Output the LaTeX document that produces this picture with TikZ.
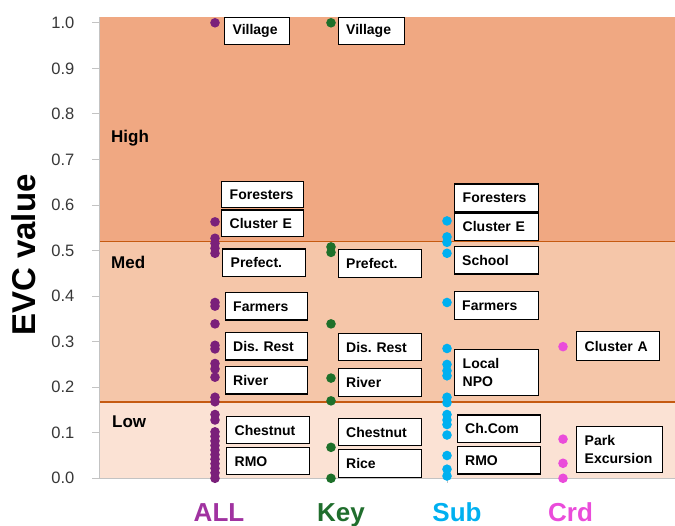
\documentclass[tikz,border=0pt]{standalone}
\usepackage{fontspec}
\setmainfont{Liberation Sans}
\definecolor{highc}{RGB}{240,168,130}
\definecolor{medc}{RGB}{245,198,169}
\definecolor{lowc}{RGB}{251,226,212}
\definecolor{bndc}{RGB}{197,90,17}
\definecolor{axc}{RGB}{195,195,195}
\definecolor{tickc}{RGB}{55,55,55}
\definecolor{allc}{RGB}{122,32,122}
\definecolor{alllab}{RGB}{160,50,160}
\definecolor{keyc}{RGB}{30,112,42}
\definecolor{keylab}{RGB}{32,110,45}
\definecolor{subc}{RGB}{0,176,240}
\definecolor{crdc}{RGB}{234,76,218}
\frenchspacing
\tikzset{
  lbl/.style={draw=black, line width=1.4pt, fill=white, anchor=north west,
    inner xsep=8pt, inner ysep=0pt, align=left,
    font=\bfseries\fontsize{14}{18}\selectfont},
  bandname/.style={anchor=base west, inner sep=0pt, font=\bfseries\fontsize{17}{20}\selectfont},
  catname/.style={anchor=base, inner sep=0pt, font=\bfseries\fontsize{26}{30}\selectfont},
  ticklab/.style={anchor=east, inner sep=0pt, text=tickc, font=\fontsize{16.5}{18}\selectfont},
  axis/.style={draw=axc, line width=1pt},
  bnd/.style={draw=bndc, line width=1.6pt},
}
\begin{document}
\begin{tikzpicture}[x=1pt,y=-1pt, declare function={vy(\v)=478.3-455.5*\v;}]
\useasboundingbox (0,0) rectangle (675,526);
% bands
\fill[highc] (100,17) rectangle (675,{vy(0.52)});
\fill[medc] (100,{vy(0.52)}) rectangle (675,{vy(0.168)});
\fill[lowc] (100,{vy(0.168)}) rectangle (675,{vy(0)});
% axes
\draw[axis] (99.5,17) -- (99.5,{vy(0)});
\draw[axis] (99.5,{vy(0)}) -- (675,{vy(0)});
\foreach \t/\lab in {0/0.0,1/0.1,2/0.2,3/0.3,4/0.4,5/0.5,6/0.6,7/0.7,8/0.8,9/0.9,10/1.0}{
  \draw[axis] (92,{vy(\t/10)}) -- (99.5,{vy(\t/10)});
  \node[ticklab] (tick\t) at (74.5,{vy(\t/10)}) {\lab};
}
\foreach \cx in {215,331,447,563}{
  \draw[axis] (\cx,{vy(0)}) -- (\cx,{vy(0)+5});
}
% boundaries
\draw[bnd] (100,{vy(0.52)}) -- (675,{vy(0.52)});
\draw[bnd] (100,{vy(0.168)}) -- (675,{vy(0.168)});
% band names
\node[bandname] (high) at (111,143) {High};
\node[bandname] (med) at (111,268.5) {Med};
\node[bandname] (low) at (112,428) {Low};
% y label
\node[rotate=90, anchor=base, inner sep=0pt, font=\bfseries\fontsize{33}{36}\selectfont] (ylab) at (35,255) {EVC value};
% categories
\node[catname, text=alllab] (catall) at (219,521.7) {ALL};
\node[catname, text=keylab] (catkey) at (341,521.7) {Key};
\node[catname, text=subc] (catsub) at (457,521.7) {Sub};
\node[catname, text=crdc] (catcrd) at (570.5,521.7) {Crd};
% dots
\foreach \v in {1.0,0.563,0.527,0.516,0.505,0.494,0.386,0.378,0.339,0.292,0.284,0.252,0.24,0.222,0.178,0.168,0.14,0.128,0.102,0.092,0.082,0.072,0.062,0.052,0.042,0.032,0.022,0.012,0.0}
  \fill[allc] (215,{vy(\v)}) circle (4.8pt);
\foreach \v in {1.0,0.508,0.496,0.339,0.22,0.17,0.068,0.0}
  \fill[keyc] (331,{vy(\v)}) circle (4.8pt);
\foreach \v in {0.565,0.53,0.518,0.494,0.386,0.285,0.25,0.236,0.225,0.178,0.166,0.14,0.128,0.118,0.095,0.05,0.02,0.005}
  \fill[subc] (447,{vy(\v)}) circle (4.8pt);
\foreach \v in {0.289,0.086,0.033,0.0}
  \fill[crdc] (563,{vy(\v)}) circle (4.8pt);
% ALL labels
\node[lbl, text width=49pt, minimum height=27pt] (aVillage) at (224,17) {Village};
\node[lbl, text width=66pt, minimum height=26pt] (aForesters) at (221,181) {Foresters};
\node[lbl, text width=66pt, minimum height=26.5pt] (aCluster) at (221,209.5) {Cluster E};
\node[lbl, text width=67pt, minimum height=27.5pt] (aPrefect) at (222,248.5) {Prefect.};
\node[lbl, text width=66.5pt, minimum height=27.5pt] (aFarmers) at (224.5,292) {Farmers};
\node[lbl, text width=66.5pt, minimum height=27.5pt] (aDis) at (224.5,332) {Dis. Rest};
\node[lbl, text width=66.5pt, minimum height=27.5pt] (aRiver) at (224.5,366) {River};
\node[lbl, text width=67pt, minimum height=27pt] (aChestnut) at (226,416) {Chestnut};
\node[lbl, text width=67pt, minimum height=27pt] (aRMO) at (226,447) {RMO};
% Key labels
\node[lbl, text width=50.5pt, minimum height=27pt] (kVillage) at (337.5,17) {Village};
\node[lbl, text width=67.5pt, minimum height=28pt] (kPrefect) at (337.5,249) {Prefect.};
\node[lbl, text width=67.5pt, minimum height=27pt] (kDis) at (337.5,333) {Dis. Rest};
\node[lbl, text width=67.5pt, minimum height=28pt] (kRiver) at (337.5,368) {River};
\node[lbl, text width=67.5pt, minimum height=27pt] (kChestnut) at (337.5,418) {Chestnut};
\node[lbl, text width=67.5pt, minimum height=28pt] (kRice) at (337.5,449) {Rice};
% Sub labels
\node[lbl, text width=68pt, minimum height=28pt] (sForesters) at (454,183.5) {Foresters};
\node[lbl, text width=68pt, minimum height=27.5pt] (sCluster) at (454,212.5) {Cluster E};
\node[lbl, text width=68.5pt, minimum height=27.5pt] (sSchool) at (453.5,246) {School};
\node[lbl, text width=68.5pt, minimum height=28pt] (sFarmers) at (453.5,291) {Farmers};
\node[lbl, text width=68pt, minimum height=46pt] (sNPO) at (454,349) {Local\\NPO};
\node[lbl, text width=67.5pt, minimum height=27.5pt] (sChCom) at (456.5,414.5) {Ch.Com};
\node[lbl, text width=67.5pt, minimum height=27.5pt] (sRMO) at (456.5,446) {RMO};
% Crd labels
\node[lbl, text width=67pt, minimum height=29pt] (cClusterA) at (576,331) {Cluster A};
\node[lbl, text width=70pt, minimum height=46pt] (cPark) at (576,426) {Park\\Excursion};
\end{tikzpicture}
\end{document}
